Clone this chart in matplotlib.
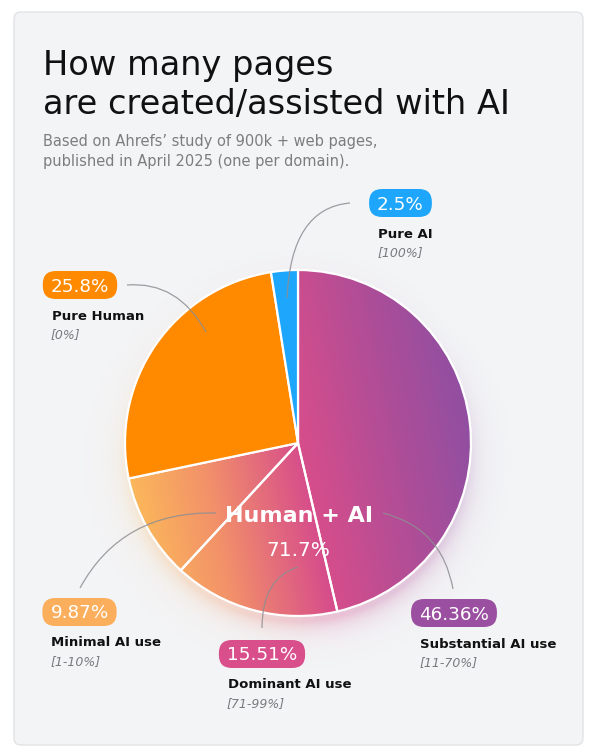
import matplotlib
matplotlib.use('Agg')
import matplotlib.pyplot as plt
import numpy as np
from matplotlib.patches import FancyBboxPatch, PathPatch
from matplotlib.path import Path
from matplotlib.colors import LinearSegmentedColormap

# ---------------- data ----------------
categories = ['Substantial AI use', 'Dominant AI use', 'Minimal AI use', 'Pure Human', 'Pure AI']
shares = [46.36, 15.51, 9.87, 25.8, 2.5]
ranges = ['[11-70%]', '[71-99%]', '[1-10%]', '[0%]', '[100%]']
human_ai = [True, True, True, False, False]
group_label = 'Human + AI'
title_lines = ['How many pages', 'are created/assisted with AI']
subtitle_lines = ["Based on Ahrefs\u2019 study of 900k + web pages,",
                  "published in April 2025 (one per domain)."]

# ---------------- style / layout ----------------
FONT = ['DejaVu Sans']
plt.rcParams['font.family'] = FONT
W, H = 597, 753
CX, CY, R = 298, 443, 173
solid_colors = {'Pure Human': '#ff8a00', 'Pure AI': '#1da6fc'}
badge_colors = {'Substantial AI use': '#9b4fa0', 'Dominant AI use': '#d94f8c',
                'Minimal AI use': '#fbae5c', 'Pure Human': '#ff8a00', 'Pure AI': '#1da6fc'}
badge_pos = {'Substantial AI use': (454, 613), 'Dominant AI use': (262, 654),
             'Minimal AI use': (79.5, 612), 'Pure Human': (80, 285), 'Pure AI': (400.5, 203)}
# connector curves: start, control, end (pixel coords)
connectors = {'Pure AI': [(287, 298), (291, 208), (350, 203)],
              'Pure Human': [(206, 332), (178, 281), (127, 285)],
              'Minimal AI use': [(216, 513), (122, 511), (80, 588)],
              'Dominant AI use': [(298, 567), (262, 578), (262, 628)],
              'Substantial AI use': [(383, 513), (442, 528), (453, 589)]}
grad = LinearSegmentedColormap.from_list('g', [(0.0, '#fbb65b'), (0.22, '#f2906a'),
                                               (0.5, '#d74e8b'), (0.75, '#b34d96'),
                                               (1.0, '#924fa1')])

fig = plt.figure(figsize=(W / 100, H / 100), dpi=100)
fig.patch.set_facecolor('white')
ax = fig.add_axes([0, 0, 1, 1])

# pie (visual clockwise from top on an inverted y axis)
wedges, _ = ax.pie(shares, startangle=-90, counterclock=True, center=(CX, CY), radius=R,
                   colors=[solid_colors.get(c, 'none') for c in categories],
                   wedgeprops=dict(edgecolor='white', linewidth=1.6))
ax.set_aspect('auto')
ax.set_xlim(0, W)
ax.set_ylim(H, 0)
ax.axis('off')
for w in wedges:
    w.set_zorder(4)

# card
card = FancyBboxPatch((14, 12), 569, 733, boxstyle='round,pad=0,rounding_size=7',
                      fc='#f3f4f6', ec='#e2e3e6', lw=1.0, zorder=0)
ax.add_patch(card)

# glow around pie
gx0, gx1, gy0, gy1 = CX - R - 45, CX + R + 45, CY - R - 45, CY + R + 50
xs = np.arange(gx0, gx1)
ys = np.arange(gy0, gy1)
XX, YY = np.meshgrid(xs + 0.5, ys + 0.5)
rr = np.hypot(XX - CX, YY - (CY + 6))
tt = np.clip((XX - 125) / 346 + 0.1 * (CY - YY) / R, 0, 1)
rgba = grad(tt)
glow = np.where(rr > R - 8, 0.30 * np.exp(-np.clip(rr - R, 0, None) / 11.0), 0.0)
glow *= np.clip((YY - (CY - R)) / (2 * R), 0.15, 1.0)
rgba[..., 3] = glow
ax.imshow(rgba, extent=(gx0, gx1, gy1, gy0), origin='upper', zorder=1, interpolation='bilinear')

# gradient fill of Human + AI slices
px0, px1, py0, py1 = CX - R - 2, CX + R + 2, CY - R - 2, CY + R + 2
xs = np.arange(px0, px1, 1.0)
ys = np.arange(py0, py1, 1.0)
XX, YY = np.meshgrid(xs + 0.5, ys + 0.5)
tt = np.clip((XX - 125) / 346 + 0.1 * (CY - YY) / R, 0, 1)
img = grad(tt)
for w, ha in zip(wedges, human_ai):
    if ha:
        im = ax.imshow(img, extent=(px0, px1, py1, py0), origin='upper', zorder=3,
                       interpolation='bilinear')
        im.set_clip_path(w)

# title and subtitle
ax.text(43, 74.5, title_lines[0], fontsize=24.2, color='#111111', va='baseline', ha='left', zorder=5)
ax.text(43, 113.5, title_lines[1], fontsize=24.2, color='#111111', va='baseline', ha='left', zorder=5)
ax.text(43, 145.5, subtitle_lines[0], fontsize=10.5, color='#7d7d80', va='baseline', ha='left', zorder=5)
ax.text(43, 165.5, subtitle_lines[1], fontsize=10.5, color='#7d7d80', va='baseline', ha='left', zorder=5)

# connectors
for cat, pts in connectors.items():
    p = Path(pts, [Path.MOVETO, Path.CURVE3, Path.CURVE3])
    ax.add_patch(PathPatch(p, fc='none', ec='#8e8e92', lw=0.9, alpha=0.85, zorder=6))

# center label
total = round(sum(s for s, h in zip(shares, human_ai) if h), 1)
ax.text(CX + 1, 522, group_label, fontsize=16, fontweight='bold', color='white',
        ha='center', va='baseline', zorder=7)
ax.text(CX + 0.5, 556, f'{total:g}%', fontsize=14.5, color='white',
        ha='center', va='baseline', zorder=7)

# badges + labels
fig.canvas.draw()
renderer = fig.canvas.get_renderer()
for cat, val, rng in zip(categories, shares, ranges):
    bx, by = badge_pos[cat]
    t = ax.text(bx, by + 6.5, f'{val:g}%', fontsize=13.2, color='white',
                ha='center', va='baseline', zorder=9)
    bb = t.get_window_extent(renderer)
    bw = bb.width + 16
    bh = 28
    ax.add_patch(FancyBboxPatch((bx - bw / 2, by - bh / 2), bw, bh,
                                boxstyle='round,pad=0,rounding_size=13',
                                fc=badge_colors[cat], ec='none', zorder=8))
    lx = bx - bw / 2 + 9
    ax.text(lx, by + 34.5, cat, fontsize=9.5, fontweight='bold', color='#111111',
            ha='left', va='baseline', zorder=9)
    ax.text(lx - 1, by + 53.5, rng, fontsize=9, style='italic', color='#7a7a7e',
            ha='left', va='baseline', zorder=9)

fig.savefig('out.png', dpi=100, facecolor='white')
